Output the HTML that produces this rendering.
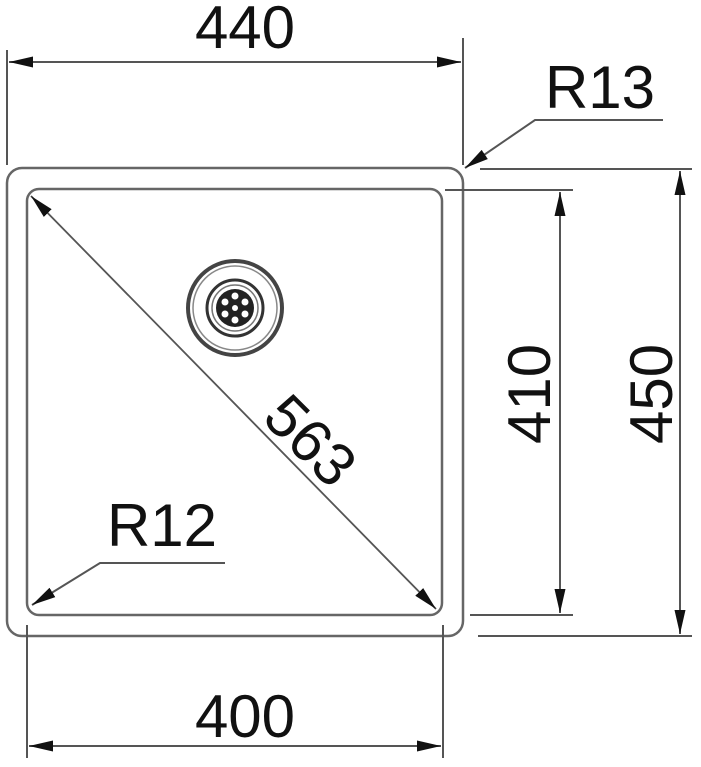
<!DOCTYPE html>
<html><head><meta charset="utf-8"><style>
html,body{margin:0;padding:0;background:#fff;}
svg{display:block;}
text{font-family:"Liberation Sans",Arial,sans-serif;font-size:60px;fill:#111;}
</style></head><body>
<svg width="701" height="767" viewBox="0 0 701 767" xmlns="http://www.w3.org/2000/svg">
<defs>
<marker id="a" viewBox="0 0 24 12" refX="24" refY="6" markerWidth="24" markerHeight="12" markerUnits="userSpaceOnUse" orient="auto-start-reverse">
<path d="M0,0.5 L24,6 L0,11.5 Z" fill="#111"/>
</marker>
</defs>
<g stroke="#555" stroke-width="2" fill="none">
<rect x="7" y="168" width="456" height="468" rx="15" stroke="#666" stroke-width="2.5"/>
<rect x="27" y="189" width="415" height="426" rx="12" stroke="#666" stroke-width="2.5"/>
<line x1="7" y1="50" x2="7" y2="165"/>
<line x1="463" y1="38" x2="463" y2="165"/>
<line x1="9" y1="62" x2="461" y2="62" marker-start="url(#a)" marker-end="url(#a)"/>
<line x1="27" y1="625" x2="27" y2="758"/>
<line x1="443" y1="625" x2="443" y2="758"/>
<line x1="29" y1="746" x2="441" y2="746" marker-start="url(#a)" marker-end="url(#a)"/>
<line x1="445" y1="190" x2="573" y2="190"/>
<line x1="470" y1="615" x2="573" y2="615"/>
<line x1="560" y1="192" x2="560" y2="613" marker-start="url(#a)" marker-end="url(#a)"/>
<line x1="480" y1="169" x2="692" y2="169"/>
<line x1="478" y1="636" x2="692" y2="636"/>
<line x1="680" y1="171" x2="680" y2="634" marker-start="url(#a)" marker-end="url(#a)"/>
<polyline points="663,120 535,120 465,168" marker-end="url(#a)"/>
<polyline points="225,563 100,563 32,605" marker-end="url(#a)"/>
<line x1="31" y1="196" x2="436" y2="609" stroke-width="1.8" marker-start="url(#a)" marker-end="url(#a)"/>
<circle cx="235" cy="308" r="47" stroke="#444" stroke-width="4"/>
<circle cx="235" cy="308" r="42" stroke="#888" stroke-width="1.5"/>
<circle cx="235" cy="308" r="28" stroke="#333" stroke-width="3"/>
<circle cx="235" cy="308" r="23" stroke="#777" stroke-width="1.5"/>
</g>
<circle cx="235" cy="308" r="19" fill="#222"/>
<g fill="#fff">
<circle cx="235" cy="296" r="3.5"/><circle cx="235" cy="320" r="3.5"/>
<circle cx="225" cy="302" r="3.5"/><circle cx="245" cy="302" r="3.5"/>
<circle cx="225" cy="314" r="3.5"/><circle cx="245" cy="314" r="3.5"/>
<circle cx="235" cy="308" r="3"/>
</g>
<text x="245" y="48" text-anchor="middle">440</text>
<text x="245" y="737" text-anchor="middle">400</text>
<text x="600" y="108" text-anchor="middle">R13</text>
<text x="162" y="546" text-anchor="middle">R12</text>
<text transform="translate(550,394) rotate(-90)" text-anchor="middle">410</text>
<text transform="translate(672,394) rotate(-90)" text-anchor="middle">450</text>
<text transform="translate(296,455) rotate(45)" text-anchor="middle">563</text>
</svg>
</body></html>
